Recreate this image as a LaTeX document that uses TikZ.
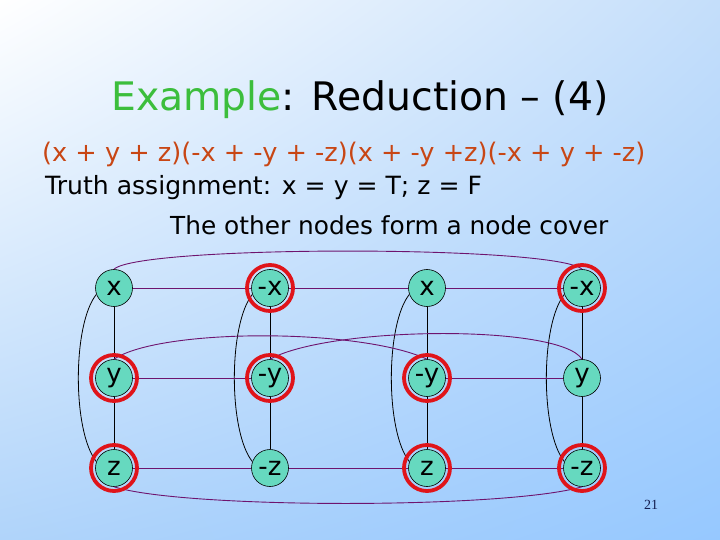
\documentclass[tikz,border=0pt]{standalone}
\usepackage{fontspec}
\usetikzlibrary{shadings}
\setmainfont{DejaVu Sans}
\newfontfamily\pgnumfont{Liberation Serif}
\definecolor{nodefill}{RGB}{102,217,191}
\definecolor{ringred}{RGB}{224,20,26}
\definecolor{edgepurple}{RGB}{110,20,110}
\definecolor{titlegreen}{RGB}{60,190,60}
\definecolor{clausecol}{RGB}{200,70,20}
\definecolor{pgcol}{RGB}{20,30,80}
\definecolor{bgtr}{RGB}{196,222,250}
\definecolor{bgbl}{RGB}{176,212,250}
\definecolor{bgbr}{RGB}{150,200,255}
\tikzset{
  lit/.style={circle, draw=black, line width=0.6pt, fill=nodefill, minimum size=37pt, inner sep=0pt, font=\fontsize{26}{26}\selectfont},
  ring/.style={draw=ringred, line width=3.8pt},
  cl/.style={draw=black, line width=0.8pt},
  cr/.style={draw=edgepurple, line width=0.9pt},
  txt/.style={inner sep=0pt, anchor=base west}
}
\begin{document}
\begin{tikzpicture}[x=1pt,y=-1pt]
\useasboundingbox (0,0) rectangle (720,540);
\shade[upper left=white, upper right=bgtr, lower left=bgbl, lower right=bgbr] (0,0) rectangle (720,540);
% texts
\node[inner sep=0pt, anchor=base, font=\fontsize{39.3}{39.3}\selectfont] (title) at (360,111) {\textcolor{titlegreen}{Example}: Reduction – (4)};
\node[txt, text=clausecol, font=\fontsize{25.6}{25.6}\selectfont] (clauses) at (42,162) {(x + y + z)(-x + -y + -z)(x + -y +z)(-x + y + -z)};
\node[txt, font=\fontsize{25.1}{25.1}\selectfont] (truth) at (45,195) {Truth assignment: x = y = T; z = F};
\node[txt, font=\fontsize{24.8}{24.8}\selectfont] (cover) at (170,234) {The other nodes form a node cover};
\node[font=\pgnumfont\fontsize{14}{14}\selectfont, text=pgcol] (pg) at (651,505) {21};
% nodes
\node[lit] (x1) at (114,288) {x};
\node[lit] (y1) at (114,378) {y};
\node[lit] (z1) at (114,468) {z};
\node[lit] (nx2) at (270,288) {-x};
\node[lit] (ny2) at (270,378) {-y};
\node[lit] (nz2) at (270,468) {-z};
\node[lit] (x3) at (427,288) {x};
\node[lit] (ny3) at (427,378) {-y};
\node[lit] (z3) at (427,468) {z};
\node[lit] (nx4) at (582,288) {-x};
\node[lit] (y4) at (582,378) {y};
\node[lit] (nz4) at (582,468) {-z};
% clause edges
\foreach \a/\b/\c in {x1/y1/z1, nx2/ny2/nz2, x3/ny3/z3, nx4/y4/nz4}{
  \draw[cl] (\a) -- (\b);
  \draw[cl] (\b) -- (\c);
  \draw[cl] (\a.200) .. controls ([xshift=-24pt,yshift=-30pt]\a.200) and ([xshift=-24pt,yshift=30pt]\c.160) .. (\c.160);
}
% complement edges
\draw[cr] (x1) -- (nx2);
\draw[cr] (nx2) -- (x3);
\draw[cr] (x3) -- (nx4);
\draw[cr] (y1) -- (ny2);
\draw[cr] (ny3) -- (y4);
\draw[cr] (z1) -- (nz2);
\draw[cr] (nz2) -- (z3);
\draw[cr] (z3) -- (nz4);
\draw[cr] (x1.north) .. controls (140,245) and (555,245) .. (nx4.north);
\draw[cr] (z1.south) .. controls (185,509) and (505,509) .. (nz4.south);
\draw[cr] (y1.north) .. controls (160,328) and (360,328) .. (ny3.north);
\draw[cr] (ny2.north) .. controls (330,326) and (560,324) .. (y4.north);
% cover rings
\foreach \n in {nx2,y1,ny2,z1,nx4,ny3,z3,nz4}{
  \draw[ring] (\n.center) circle (23);
}
\end{tikzpicture}
\end{document}
